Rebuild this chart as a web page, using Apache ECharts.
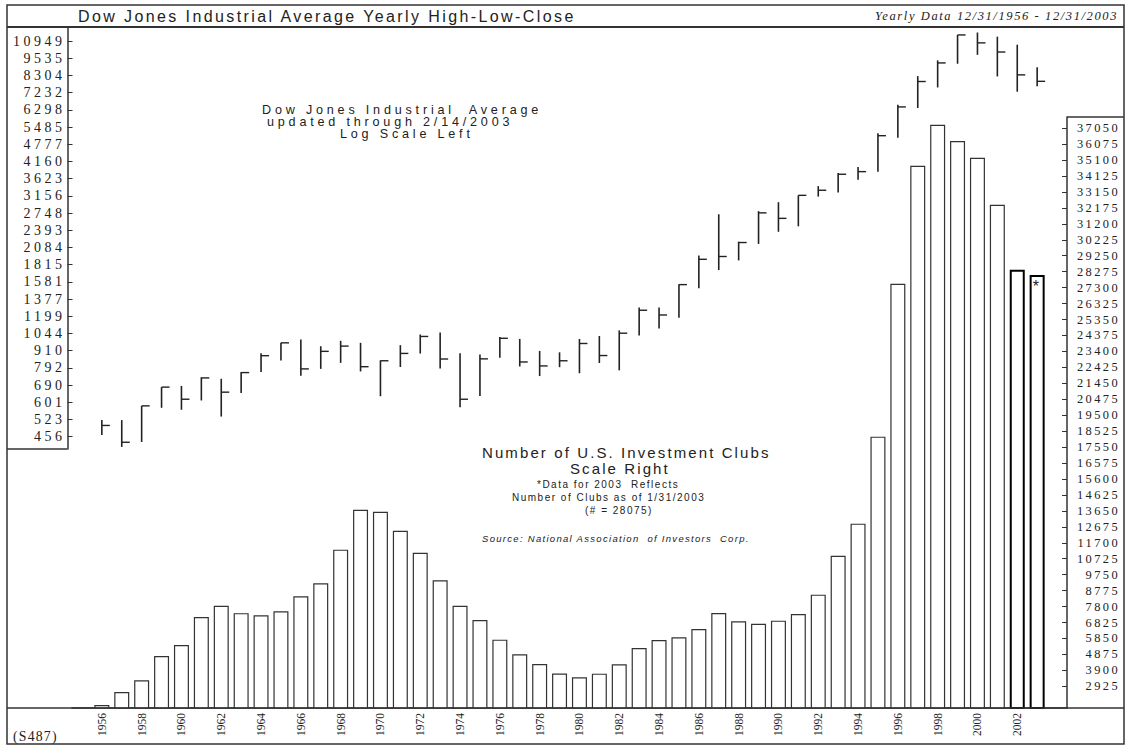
<!DOCTYPE html>
<html>
<head>
<meta charset="utf-8">
<title>Dow Jones Industrial Average Yearly High-Low-Close</title>
<script src="https://cdn.jsdelivr.net/npm/echarts@6/dist/echarts.min.js"></script>
<style>
html, body { margin: 0; padding: 0; background: #fff; }
#main { width: 1128px; height: 746px; }
/* the old chart uses wide letter spacing, set per text group by size */
#main text[style*="16px"] { letter-spacing: 2.4px; }
#main text[style*="12.5px"] { letter-spacing: 1.6px; }
#main text[style*="14px"] { letter-spacing: 3.5px; }
#main text[style*="12.4px"] { letter-spacing: 2.4px; }
#main text[style*="12.6px"] { letter-spacing: 3.8px; }
#main text[style*="15px"] { letter-spacing: 2.1px; }
#main text[style*="10px"] { letter-spacing: 1.5px; }
#main text[style*="9.5px"] { letter-spacing: 1.3px; }
#main text[style*="13.8px"] { letter-spacing: 1.2px; }
</style>
</head>
<body>
<div id="main"></div>
<script>
// years shown, 1956 - 2003
var years = [1956, 1957, 1958, 1959, 1960, 1961, 1962, 1963, 1964, 1965,
	1966, 1967, 1968, 1969, 1970, 1971, 1972, 1973, 1974, 1975,
	1976, 1977, 1978, 1979, 1980, 1981, 1982, 1983, 1984, 1985,
	1986, 1987, 1988, 1989, 1990, 1991, 1992, 1993, 1994, 1995,
	1996, 1997, 1998, 1999, 2000, 2001, 2002, 2003];

// DJIA yearly high / low / close (log scale left)
var djHigh = [521, 521, 584, 679, 685, 735, 726, 767, 892, 969,
	995, 943, 985, 969, 842, 951, 1036, 1052, 892, 882,
	1015, 1000, 908, 898, 1000, 1024, 1071, 1287, 1287, 1553,
	1956, 2722, 2184, 2791, 3000, 3169, 3413, 3794, 3978, 5216,
	6561, 8259, 9374, 11497, 11723, 11338, 10635, 8860];
var djLow = [462, 420, 437, 575, 566, 610, 536, 647, 766, 841,
	744, 786, 825, 770, 631, 798, 889, 788, 578, 632,
	859, 801, 742, 797, 759, 824, 777, 1027, 1087, 1185,
	1502, 1739, 1879, 2145, 2365, 2470, 3137, 3242, 3593, 3832,
	5033, 6392, 7539, 9121, 9796, 8236, 7286, 7620];
var djClose = [499, 436, 584, 679, 616, 731, 652, 763, 874, 969,
	786, 905, 944, 800, 839, 890, 1020, 851, 616, 852,
	1005, 831, 805, 839, 964, 875, 1047, 1259, 1212, 1547,
	1896, 1939, 2169, 2753, 2634, 3169, 3301, 3754, 3834, 5117,
	6448, 7908, 9181, 11497, 10787, 10022, 8342, 7920];

// number of U.S. investment clubs (scale right)
var clubs = [1780, 2580, 3290, 4780, 5450, 7160, 7850, 7400, 7270, 7510,
	8430, 9220, 11280, 13720, 13600, 12440, 11090, 9410, 7850, 6980,
	5780, 4880, 4290, 3710, 3480, 3700, 4270, 5270, 5760, 5920,
	6430, 7410, 6900, 6750, 6940, 7350, 8530, 10910, 12870, 18190,
	27540, 34750, 37260, 36260, 35240, 32370, 28390, 28075];

var leftTicks = [456, 523, 601, 690, 792, 910, 1044, 1199, 1377, 1581,
	1815, 2084, 2393, 2748, 3156, 3623, 4160, 4777, 5485, 6298,
	7232, 8304, 9535, 10949];
var rightTicks = [2925, 3900, 4875, 5850, 6825, 7800, 8775, 9750, 10725, 11700,
	12675, 13650, 14625, 15600, 16575, 17550, 18525, 19500, 20475, 21450,
	22425, 23400, 24375, 25350, 26325, 27300, 28275, 29250, 30225, 31200,
	32175, 33150, 34125, 35100, 36075, 37050];

// one empty year each side, like the original frame
var cats = [1955].concat(years, [2004]).map(String);

var ink = '#222';
var sans = 'Liberation Sans';
var serif = 'Liberation Serif';

function renderHLC(params, api) {
	var hi = api.coord([api.value(0), api.value(1)]);
	var lo = api.coord([api.value(0), api.value(2)]);
	var cl = api.coord([api.value(0), api.value(3)]);
	return {
		type: 'group',
		children: [
			{ type: 'line', shape: { x1: hi[0], y1: hi[1], x2: lo[0], y2: lo[1] },
				style: { stroke: ink, lineWidth: 1.6 } },
			{ type: 'line', shape: { x1: cl[0], y1: cl[1], x2: cl[0] + 8, y2: cl[1] },
				style: { stroke: ink, lineWidth: 1.4 } }
		]
	};
}

function txt(x, y, text, size, family, opt) {
	opt = opt || {};
	return {
		type: 'text', x: x, y: y, z: 10,
		style: {
			text: text, fontSize: size, fontFamily: family,
			fontStyle: opt.italic ? 'italic' : 'normal',
			fill: ink,
			align: opt.align || 'left', textAlign: opt.align || 'left',
			verticalAlign: 'middle', textVerticalAlign: 'middle'
		}
	};
}

function hline(x1, x2, y, w) {
	return { type: 'line', z: 10, shape: { x1: x1, y1: y, x2: x2, y2: y },
		style: { stroke: '#333', lineWidth: w || 1.5 } };
}

var hlcData = years.map(function (y, i) {
	return [String(y), djHigh[i], djLow[i], djClose[i]];
});

var barData = years.map(function (y, i) {
	var item = { value: [String(y), clubs[i]] };
	if (y >= 2002) {
		item.itemStyle = { borderColor: '#000', borderWidth: 2 };
	}
	if (y === 2003) {
		item.label = { show: true, position: 'insideTop', distance: 4, formatter: '*',
			fontSize: 16, fontFamily: sans, color: ink };
	}
	return item;
});

var chartOption = {
	animation: false,
	backgroundColor: '#fff',
	grid: [
		{ left: 72, right: 61, top: 27, bottom: 297, outerBoundsMode: 'none' },
		{ left: 72, right: 61, top: 117, bottom: 38, outerBoundsMode: 'none' }
	],
	xAxis: [
		{ type: 'category', gridIndex: 0, data: cats, show: false },
		{
			type: 'category', gridIndex: 1, data: cats,
			axisLine: { lineStyle: { color: '#333', width: 1.5 } },
			axisTick: {
				alignWithLabel: true, length: 5, lineStyle: { color: '#333' },
				interval: function (idx, val) { return +val >= 1956 && +val <= 2003; }
			},
			axisLabel: {
				rotate: 90, margin: 5, fontSize: 11.5, fontFamily: serif, color: ink,
				interval: function (idx, val) { return +val >= 1956 && +val <= 2002 && +val % 2 === 0; }
			}
		}
	],
	yAxis: [
		{
			type: 'log', gridIndex: 0, position: 'left', offset: 4.5,
			min: 413, max: 12253,
			axisLine: { show: true, lineStyle: { color: '#333', width: 1.5 } },
			axisTick: { show: true, inside: true, length: 5, customValues: leftTicks,
				lineStyle: { color: '#333' } },
			axisLabel: { customValues: leftTicks, margin: 2, fontSize: 14, fontFamily: serif,
				color: ink, formatter: function (v) { return String(v); } },
			splitLine: { show: false }
		},
		{
			type: 'value', gridIndex: 1, position: 'right',
			min: 1600, max: 37730,
			axisLine: { show: true, lineStyle: { color: '#333', width: 1.5 } },
			axisTick: { show: true, inside: true, length: 5, customValues: rightTicks,
				lineStyle: { color: '#333' } },
			axisLabel: { customValues: rightTicks, align: 'right', margin: 53, fontSize: 12.4,
				fontFamily: serif, color: ink, formatter: function (v) { return String(v); } },
			splitLine: { show: false }
		}
	],
	series: [
		{
			name: 'Number of U.S. Investment Clubs', type: 'bar',
			xAxisIndex: 1, yAxisIndex: 1, barWidth: 15, z: 2,
			itemStyle: { color: '#fff', borderColor: '#333', borderWidth: 1.2 },
			data: barData
		},
		{
			name: 'Dow Jones Industrial Average', type: 'custom',
			xAxisIndex: 0, yAxisIndex: 0, z: 3,
			renderItem: renderHLC,
			encode: { x: 0, y: [1, 2, 3] },
			data: hlcData
		}
	],
	graphic: [
		{ type: 'rect', z: 10, shape: { x: 7, y: 5, width: 1117, height: 739 },
			style: { fill: 'none', stroke: '#333', lineWidth: 1.5 } },
		hline(7, 1124, 27, 2),
		hline(7, 67.5, 449),
		hline(1067, 1124, 117),
		hline(7, 1124, 708),
		txt(78, 16, 'Dow Jones Industrial Average Yearly High-Low-Close', 16, sans),
		txt(1118, 16, 'Yearly Data 12/31/1956 - 12/31/2003', 12.5, serif, { italic: true, align: 'right' }),
		txt(262, 110, 'Dow Jones Industrial  Average', 12.6, sans),
		txt(267, 122, 'updated through 2/14/2003', 12.6, sans),
		txt(340, 134, 'Log Scale Left', 12.6, sans),
		txt(482, 452, 'Number of U.S. Investment Clubs', 15, sans),
		txt(570, 468, 'Scale Right', 15, sans),
		txt(537, 484, '*Data for 2003  Reflects', 10, sans),
		txt(512, 497, 'Number of Clubs as of 1/31/2003', 10, sans),
		txt(585, 510, '(# = 28075)', 10, sans),
		txt(482, 538, 'Source: National Association  of Investors  Corp.', 9.5, sans, { italic: true }),
		txt(13, 736, '(S487)', 13.8, serif)
	]
};

var domMain = document.getElementById('main');
var chartOne = echarts.init(domMain, null, { renderer: 'svg' });
chartOne.setOption(chartOption, true);
</script>
</body>
</html>
